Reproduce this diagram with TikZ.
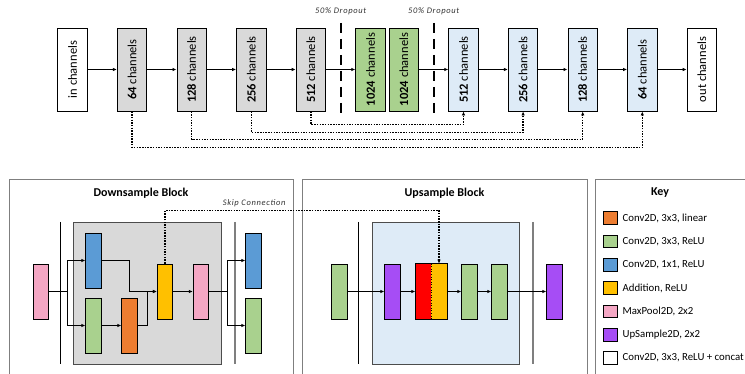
\documentclass[tikz,border=0pt]{standalone}
\usepackage{fontspec}
\setmainfont{Carlito}
\newfontfamily\spacedfont[LetterSpace=8]{Carlito}
\usetikzlibrary{calc, positioning, arrows.meta}

\definecolor{encgray}{HTML}{D9D9D9}
\definecolor{convgreen}{HTML}{A9D18E}
\definecolor{declight}{HTML}{DEEBF7}
\definecolor{convblue}{HTML}{5B9BD5}
\definecolor{convorange}{HTML}{ED7D31}
\definecolor{addyellow}{HTML}{FFC000}
\definecolor{poolpink}{HTML}{F4A7C4}
\definecolor{uppurple}{HTML}{A64DF5}
\definecolor{framegray}{HTML}{7F7F7F}

\begin{document}
\begin{tikzpicture}[x=1pt, y=-1pt,
  chan/.style={draw, line width=0.9pt, minimum width=29.5pt, minimum height=83pt, inner sep=0pt, font=\fontsize{12.5}{14}\selectfont},
  enc/.style={chan, fill=encgray},
  mid/.style={chan, fill=convgreen},
  dec/.style={chan, fill=declight},
  layer/.style={draw, line width=0.8pt, minimum width=15.5pt, minimum height=55pt, inner sep=0pt},
  flow/.style={line width=1.3pt, -{Latex[length=4pt, width=3.5pt]}},
  skip/.style={line width=1.5pt, dash pattern=on 1.5pt off 1.2pt, -{Latex[length=4pt, width=3.5pt]}},
  drop/.style={line width=2.4pt, dash pattern=on 10pt off 6pt},
  note/.style={font=\spacedfont\itshape\fontsize{8.5}{10}\selectfont, text=black!80},
  title/.style={font=\fontsize{12}{14}\selectfont\bfseries},
  panel/.style={draw=framegray, line width=1pt},
  keybox/.style={draw, line width=0.8pt, minimum width=14pt, minimum height=12.5pt, inner sep=0pt},
  keytxt/.style={font=\fontsize{10.8}{12}\selectfont, anchor=west, inner sep=0pt}
]
\useasboundingbox (0,0) rectangle (745,374);

% Network overview
\node[chan] (in) at (72.5,69.5) {\rotatebox{90}{in channels}};
\node[enc, right=29.2pt of in] (e64) {\rotatebox{90}{\textbf{64} channels}};
\node[enc, right=29.2pt of e64] (e128) {\rotatebox{90}{\textbf{128} channels}};
\node[enc, right=29.2pt of e128] (e256) {\rotatebox{90}{\textbf{256} channels}};
\node[enc, right=29.2pt of e256] (e512) {\rotatebox{90}{\textbf{512} channels}};
\node[mid, right=29.2pt of e512] (b1024a) {\rotatebox{90}{\textbf{1024} channels}};
\node[mid, right=3pt of b1024a] (b1024b) {\rotatebox{90}{\textbf{1024} channels}};
\node[dec, right=29.2pt of b1024b] (d512) {\rotatebox{90}{\textbf{512} channels}};
\node[dec, right=29.2pt of d512] (d256) {\rotatebox{90}{\textbf{256} channels}};
\node[dec, right=29.2pt of d256] (d128) {\rotatebox{90}{\textbf{128} channels}};
\node[dec, right=29.2pt of d128] (d64) {\rotatebox{90}{\textbf{64} channels}};
\node[chan, right=29.2pt of d64] (out) {\rotatebox{90}{out channels}};

\foreach \a/\b in {in/e64, e64/e128, e128/e256, e256/e512, e512/b1024a,
                   b1024b/d512, d512/d256, d256/d128, d128/d64, d64/out}
  \draw[flow] (\a.east) -- (\b.west);

% Skip connections
\draw[skip] (e512.south) -- ++(0,13) -| (d512.south);
\draw[skip] (e256.south) -- ++(0,21) -| (d256.south);
\draw[skip] (e128.south) -- ++(0,28) -| (d128.south);
\draw[skip] (e64.south) -- ++(0,36) -| (d64.south);

% Dropout
\coordinate (cut1) at ($(e512.east)!0.5!(b1024a.west)$);
\coordinate (cut2) at ($(b1024b.east)!0.5!(d512.west)$);
\foreach \c in {cut1, cut2} {
  \draw[drop] ([yshift=46.5pt]\c) -- ([yshift=-46.5pt]\c);
  \node[note] (lbl-\c) at ([yshift=58.5pt]\c) {50\% Dropout};
}

% Panels
\draw[panel] (9,180) rectangle (293,390);
\draw[panel] (302,180) rectangle (587,390);
\draw[panel] (595,180) rectangle (760,390);

% Downsample block
\node[title] (downt) at (141,193) {Downsample Block};
\draw[draw=black!70, line width=0.9pt, fill=encgray] (73,222) rectangle (221,364);
\draw[line width=0.9pt] (60,222) -- (60,364);
\draw[framegray, line width=1.3pt] (235,222) -- (235,364);
\node[layer, fill=poolpink] (pin) at (41,291.5) {};
\node[layer, fill=convblue] (ca) at (93.5,260.5) {};
\node[layer, fill=convgreen] (cb) at (93.5,325.5) {};
\node[layer, fill=convorange] (cc) at (129.5,325.5) {};
\node[layer, fill=addyellow] (add) at (165,291.5) {};
\node[layer, fill=poolpink] (pool) at (201,291.5) {};
\node[layer, fill=convblue] (na) at (253.5,260.5) {};
\node[layer, fill=convgreen] (nb) at (253.5,325.5) {};

\draw[flow] (pin.east) -- ++(18,0) |- (ca.west);
\draw[flow] (pin.east) -- ++(18,0) |- (cb.west);
\draw[flow] (ca.east) -- ++(28,0) |- (add.west);
\draw[flow] (cb) -- (cc);
\draw[flow] (cc.east) -- ++(10,0) |- (add.west);
\draw[flow] (add) -- (pool);
\draw[flow] (pool.east) -- ++(18,0) |- (na.west);
\draw[flow] (pool.east) -- ++(18,0) |- (nb.west);

% Upsample block
\node[title] (upt) at (444.5,193) {Upsample Block};
\draw[draw=black!70, line width=0.9pt, fill=declight] (372,222) rectangle (519,364);
\draw[line width=0.9pt] (358,222) -- (358,364);
\draw[framegray, line width=1.3pt] (533,222) -- (533,364);
\node[layer, fill=convgreen] (ua) at (339.5,291.5) {};
\node[layer, fill=uppurple] (ub) at (392.5,291.5) {};
\node[layer, fill=red, draw=none] (catr) at (423.5,291.5) {};
\node[layer, fill=addyellow, draw=none] (caty) at (439,291.5) {};
\draw[line width=0.8pt] (catr.north west) rectangle (caty.south east);
\draw[line width=0.6pt, dotted] (catr.north east) -- (catr.south east);
\node[layer, fill=convgreen] (uc) at (469.5,291.5) {};
\node[layer, fill=convgreen] (ud) at (499.5,291.5) {};
\node[layer, fill=uppurple] (ue) at (554.5,291.5) {};

\draw[flow] (ua) -- (ub);
\draw[flow] (ub) -- (catr);
\draw[flow] (caty) -- (uc);
\draw[flow] (uc) -- (ud);
\draw[flow] (ud) -- (ue);

% Skip connection between blocks
\draw[skip] (add.north) -- ++(0,-53) -| (caty.north);
\node[note, anchor=south east] (skipt) at (289,210) {Skip Connection};

% Key
\node[title] (keyt) at (660,193) {Key};
\foreach \c/\t [count=\i] in {convorange/{Conv2D, 3x3, linear}, convgreen/{Conv2D, 3x3, ReLU},
    convblue/{Conv2D, 1x1, ReLU}, addyellow/{Addition, ReLU}, poolpink/{MaxPool2D, 2x2},
    uppurple/{UpSample2D, 2x2}, white/{Conv2D, 3x3, ReLU + concat}} {
  \node[keybox, fill=\c] (sw\i) at (610,{194.7+23.33*\i}) {};
  \node[keytxt, right=5pt of sw\i] (kt\i) {\t};
}

\end{tikzpicture}
\end{document}
